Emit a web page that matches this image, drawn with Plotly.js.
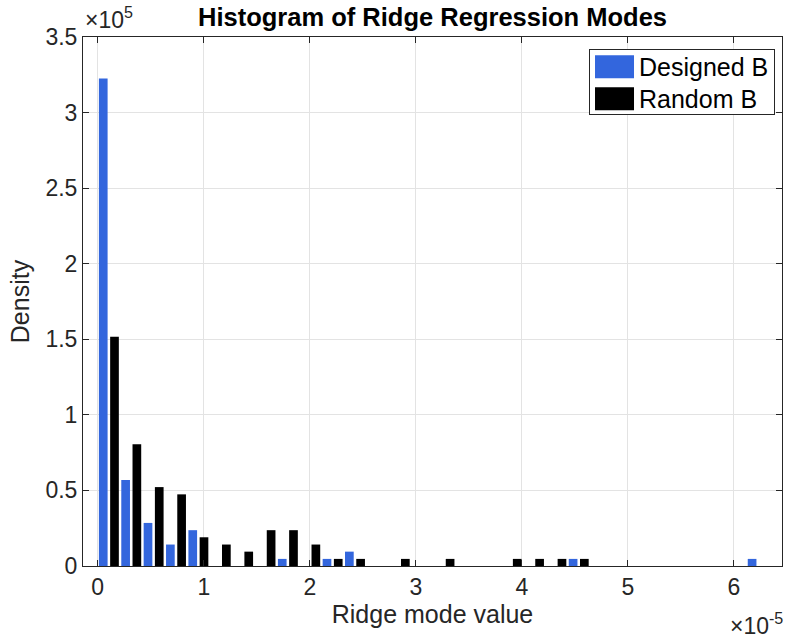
<!DOCTYPE html>
<html>
<head>
<meta charset="utf-8">
<script src="https://cdn.plot.ly/plotly-3.0.1.min.js"></script>
<style>
  html, body { margin: 0; padding: 0; background: #ffffff; }
  #chart { width: 790px; height: 639px; }
</style>
</head>
<body>
<div id="chart"></div>
<script>
// Bin centres of the histogram (x axis values, in units of 1e-5)
const binCenters = [0.105, 0.316, 0.527, 0.738, 0.949, 1.160, 1.371, 1.582, 1.793, 2.004,
                    2.215, 2.426, 2.637, 2.848, 3.059, 3.270, 3.481, 3.692, 3.903, 4.114,
                    4.325, 4.536, 4.747, 4.958, 5.169, 5.380, 5.591, 5.802, 6.013, 6.224];
// Density values (in units of 1e5)
const designedDensity = [3.225, 0.569, 0.285, 0.142, 0.237, 0, 0, 0, 0.047, 0,
                         0.047, 0.095, 0, 0, 0, 0, 0, 0, 0, 0,
                         0, 0.047, 0, 0, 0, 0, 0, 0, 0, 0.047];
const randomDensity   = [1.517, 0.806, 0.522, 0.474, 0.190, 0.142, 0.095, 0.237, 0.237, 0.142,
                         0.047, 0.047, 0, 0.047, 0, 0.047, 0, 0, 0.047, 0.047,
                         0.047, 0.047, 0, 0, 0, 0, 0, 0, 0, 0];
const seriesNames = ["Designed B", "Random B"];
const xTickVals = [0, 1, 2, 3, 4, 5, 6];
const xTickText = ["0", "1", "2", "3", "4", "5", "6"];
const yTickVals = [0, 0.5, 1, 1.5, 2, 2.5, 3, 3.5];
const yTickText = ["0", "0.5", "1", "1.5", "2", "2.5", "3", "3.5"];

const FONT = "'Liberation Sans', Arial, Helvetica, sans-serif";
const AXCOL = "#262626";

const traces = [
  { type: "bar", name: seriesNames[0], x: binCenters, y: designedDensity,
    width: 0.082, offset: -0.094,
    marker: { color: "#3366dd", line: { width: 0 } } },
  { type: "bar", name: seriesNames[1], x: binCenters, y: randomDensity,
    width: 0.082, offset: 0.012,
    marker: { color: "#000000", line: { width: 0 } } }
];

const axisCommon = {
  showline: true, linecolor: AXCOL, linewidth: 1, mirror: "allticks",
  ticks: "inside", ticklen: 6, tickwidth: 1, tickcolor: AXCOL,
  showgrid: true, gridcolor: "#e3e3e3", gridwidth: 1, zeroline: false,
  tickfont: { family: FONT, size: 23, color: AXCOL },
  tickmode: "array", automargin: false, fixedrange: true
};

const layout = {
  width: 790, height: 639,
  margin: { l: 83, r: 8, t: 37, b: 73 },
  paper_bgcolor: "#ffffff", plot_bgcolor: "#ffffff",
  barmode: "overlay",
  showlegend: true,
  title: { text: "<b>Histogram of Ridge Regression Modes</b>",
           font: { family: FONT, size: 25.5, color: "#000000" },
           x: 0.5475, xanchor: "center", yref: "container", y: 0.973, yanchor: "middle" },
  xaxis: Object.assign({}, axisCommon, {
    range: [-0.139, 6.453], tickvals: xTickVals, ticktext: xTickText,
    title: { text: "Ridge mode value", font: { family: FONT, size: 25, color: AXCOL }, standoff: 3 }
  }),
  yaxis: Object.assign({}, axisCommon, {
    range: [0, 3.5], tickvals: yTickVals, ticktext: yTickText,
    title: { text: "Density", font: { family: FONT, size: 25, color: AXCOL }, standoff: 8 }
  }),
  legend: {
    x: 0.99, xanchor: "right", y: 0.977, yanchor: "top",
    bgcolor: "#ffffff", bordercolor: AXCOL, borderwidth: 1,
    font: { family: FONT, size: 25, color: "#000000" },
    itemwidth: 39, tracegroupgap: 0, traceorder: "normal"
  },
  annotations: [
    { xref: "paper", yref: "paper", x: 0, y: 1, xanchor: "left", yanchor: "bottom", yshift: 2,
      text: "×10<sup>5</sup>", showarrow: false, font: { family: FONT, size: 23, color: AXCOL } },
    { xref: "paper", yref: "paper", x: 1.004, y: 0, xanchor: "right", yanchor: "top", yshift: -41,
      text: "×10<sup>-5</sup>", showarrow: false, font: { family: FONT, size: 23, color: AXCOL } }
  ]
};

Plotly.newPlot("chart", traces, layout, { displayModeBar: false, staticPlot: true }).then(function (gd) {
  // MATLAB-like legend: large rectangular swatches, tight vertical spacing
  gd.querySelectorAll(".legend .legendpoints path").forEach(function (p) {
    p.setAttribute("d", "M-19.5,-11.5h39v23h-39z");
  });
  const items = gd.querySelectorAll(".legend .traces");
  const centers = [17.5, 49.5];
  items.forEach(function (it, i) {
    const m = /translate\(\s*([-\d.]+)[ ,]+([-\d.]+)\s*\)/.exec(it.getAttribute("transform") || "");
    const tx = m ? parseFloat(m[1]) : 1;
    it.setAttribute("transform", "translate(" + tx + "," + centers[i] + ")");
  });
  const bg = gd.querySelector(".legend rect.bg");
  if (bg) bg.setAttribute("height", "65");
  const sb = gd.querySelector(".legend .scrollbox");
  if (sb) sb.setAttribute("transform", "translate(0,0)");
});
</script>
</body>
</html>
